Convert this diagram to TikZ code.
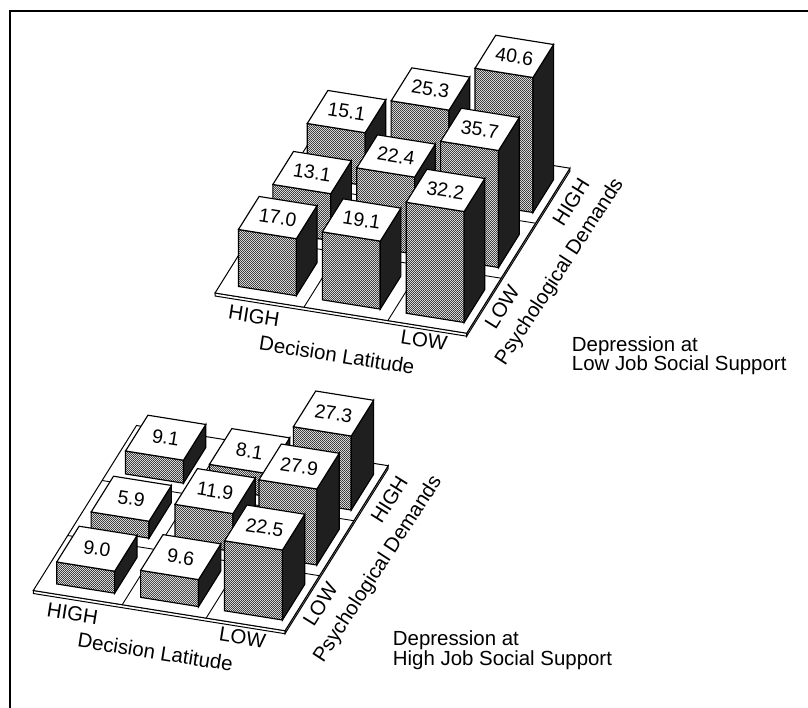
\documentclass[tikz,border=0pt]{standalone}
\usepackage{fontspec}
\setmainfont{Liberation Sans}
\usetikzlibrary{calc,patterns.meta}
\tikzdeclarepattern{name=bardots,type=uncolored,
  bounding box={(0pt,0pt) and (2.4pt,2.4pt)},tile size={(2.4pt,2.4pt)},
  code={\pgfpathcircle{\pgfqpoint{0.6pt}{0.6pt}}{0.5pt}\pgfpathcircle{\pgfqpoint{1.8pt}{1.8pt}}{0.5pt}\pgfusepath{fill}}}

\def\aO{0.21}\def\bO{0.17}\def\bW{0.69}\def\bD{0.60}

\tikzset{
 barline/.style={line width=1.15bp, line join=miter},
 frontface/.style={barline, preaction={fill=black!16}, pattern=bardots, pattern color=black},
 sideface/.style={barline, fill=black!88},
 topface/.style={barline, fill=white},
 plate/.style={line width=1bp, fill=white, line join=miter},
 divider/.style={line width=0.9bp},
 vallabel/.style={font=\fontsize{19.5}{20}\selectfont, rotate=-9, inner sep=0pt},
 axlabel/.style={font=\fontsize{20.5}{22}\selectfont, inner sep=0pt},
 titletext/.style={font=\fontsize{20.5}{22}\selectfont, inner sep=0pt, anchor=base west},
 frameline/.style={line width=2.5bp, line join=miter}
}

% #1 plate origin, #2 column i, #3 row j, #4 height, #5 label, #6 node name
\newcommand\drawbar[6]{%
 \pgfmathsetmacro\fa{\aO+#2}%
 \pgfmathsetmacro\fb{\bO+#3}%
 \coordinate (A) at ($(#1)+\fa*(vX)+\fb*(vD)$);
 \coordinate (B) at ($(A)+\bW*(vX)$);
 \coordinate (C) at ($(B)+\bD*(vD)$);
 \coordinate (At) at ($(A)+#4*(vH)$);
 \coordinate (Bt) at ($(B)+#4*(vH)$);
 \coordinate (Ct) at ($(C)+#4*(vH)$);
 \coordinate (Et) at ($(At)+\bD*(vD)$);
 \filldraw[frontface] (A)--(B)--(Bt)--(At)--cycle;
 \filldraw[sideface] (B)--(C)--(Ct)--(Bt)--cycle;
 \filldraw[topface] (At)--(Bt)--(Ct)--(Et)--cycle;
 \node[vallabel] (#6) at ($(At)!0.5!(Ct)$) {#5};
}

% #1 plate origin
\newcommand\drawplate[1]{%
 \coordinate (P1) at ($(#1)+3*(vX)$);
 \coordinate (P2) at ($(P1)+3*(vD)$);
 \coordinate (P3) at ($(#1)+3*(vD)$);
 \filldraw[plate] (#1)--(P1)--($(P1)+(0,3)$)--($(#1)+(0,3)$)--cycle;
 \filldraw[plate] (P1)--(P2)--($(P2)+(0,3)$)--($(P1)+(0,3)$)--cycle;
 \filldraw[plate] (#1)--(P1)--(P2)--(P3)--cycle;
 \foreach \k in {1.06,2.06} {\draw[divider] ($(#1)+\k*(vX)$) -- ($(#1)+\k*(vX)+3*(vD)$);}
 \foreach \k in {1,2} {\draw[divider] ($(#1)+\k*(vD)$) -- ($(#1)+\k*(vD)+3*(vX)$);}
}

\begin{document}
\begin{tikzpicture}[x=1bp,y=-1bp]
\useasboundingbox (0,0) rectangle (808,708);
\fill[white] (0,0) rectangle (808,708);
\coordinate (vX) at (83.9,13.4);
\coordinate (vD) at (34.4,-55);
\coordinate (vH) at (0,-1);

\draw[frameline] (810,11) -- (10.2,11) -- (10.2,710);

% ---------- top chart: low job social support ----------
\coordinate (O1) at (215,293);
\drawplate{O1}
\drawbar{O1}{0}{2}{53}{15.1}{a02}
\drawbar{O1}{1}{2}{89}{25.3}{a12}
\drawbar{O1}{2}{2}{135}{40.6}{a22}
\drawbar{O1}{0}{1}{47}{13.1}{a01}
\drawbar{O1}{1}{1}{77}{22.4}{a11}
\drawbar{O1}{2}{1}{117}{35.7}{a21}
\drawbar{O1}{0}{0}{57}{17.0}{a00}
\drawbar{O1}{1}{0}{68}{19.1}{a10}
\drawbar{O1}{2}{0}{111}{32.2}{a20}
\node[axlabel, rotate=-9] (adlh) at (254,316) {HIGH};
\node[axlabel, rotate=-9] (adll) at (424,340) {LOW};
\node[axlabel, rotate=-9] (adl) at (337,355) {Decision Latitude};
\node[axlabel, rotate=58] (apdl) at (502,307) {LOW};
\node[axlabel, rotate=58] (apdh) at (571,202) {HIGH};
\node[axlabel, rotate=57] (apd) at (560,272) {Psychological Demands};
\node[titletext] (at1) at (571.7,351.7) {Depression at};
\node[titletext] (at2) at (571.7,370.5) {Low Job Social Support};

% ---------- bottom chart: high job social support ----------
\def\bD{0.65}
\coordinate (O2) at (33.3,590.5);
\drawplate{O2}
\drawbar{O2}{0}{2}{23}{9.1}{b02}
\drawbar{O2}{1}{2}{23}{8.1}{b12}
\drawbar{O2}{2}{2}{74}{27.3}{b22}
\drawbar{O2}{0}{1}{17}{5.9}{b01}
\drawbar{O2}{1}{1}{38}{11.9}{b11}
\drawbar{O2}{2}{1}{76}{27.9}{b21}
\drawbar{O2}{0}{0}{22}{9.0}{b00}
\drawbar{O2}{1}{0}{27}{9.6}{b10}
\drawbar{O2}{2}{0}{70}{22.5}{b20}
\node[axlabel, rotate=-9] (bdlh) at (72.5,613.5) {HIGH};
\node[axlabel, rotate=-9] (bdll) at (242.5,637.5) {LOW};
\node[axlabel, rotate=-9] (bdl) at (155.3,652) {Decision Latitude};
\node[axlabel, rotate=58] (bpdl) at (320.3,604.5) {LOW};
\node[axlabel, rotate=58] (bpdh) at (389.3,499.5) {HIGH};
\node[axlabel, rotate=57] (bpd) at (378.3,569.5) {Psychological Demands};
\node[titletext] (bt1) at (392.7,645.7) {Depression at};
\node[titletext] (bt2) at (392.7,665) {High Job Social Support};
\end{tikzpicture}
\end{document}
